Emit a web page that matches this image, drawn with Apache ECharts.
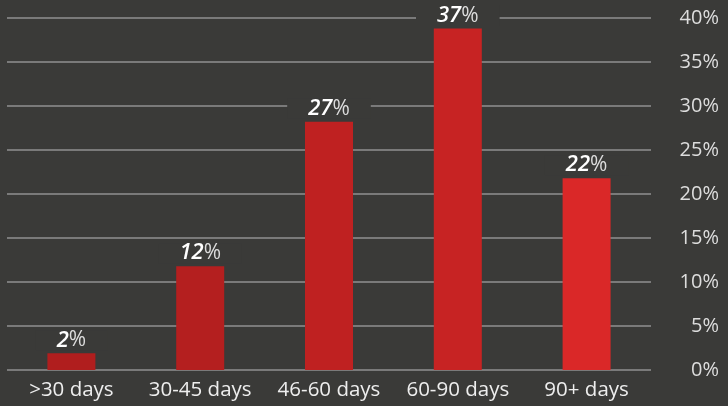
<!DOCTYPE html>
<html>
<head>
<meta charset="utf-8">
<script src="https://cdn.jsdelivr.net/npm/echarts@6/dist/echarts.min.js"></script>
<style>
html, body { margin: 0; padding: 0; background: #3a3a38; }
#chart { width: 728px; height: 406px; }
</style>
</head>
<body>
<div id="chart"></div>
<script>
var categories = ['>30 days', '30-45 days', '46-60 days', '60-90 days', '90+ days'];
var values = [1.9, 11.8, 28.2, 38.8, 21.8];      // bar heights
var labelValues = [2, 12, 27, 37, 22];            // printed labels
var barColors = ['#b01e1e', '#b41f1f', '#bf2121', '#c72323', '#da2828'];
var bg = '#3a3a38';

var chart = echarts.init(document.getElementById('chart'));

var data = [];
for (var i = 0; i < values.length; i++) {
	data.push({
		value: values[i],
		itemStyle: { color: barColors[i] }
	});
}

chart.setOption({
	backgroundColor: bg,
	textStyle: { fontFamily: 'Open Sans' },
	grid: { left: 7, right: 77, top: 18, bottom: 36 },
	xAxis: {
		type: 'category',
		data: categories,
		axisLine: { show: false },
		axisTick: { show: false },
		axisLabel: { color: '#eeeeee', fontSize: 20.5, margin: 10, interval: 0 }
	},
	yAxis: {
		type: 'value',
		position: 'right',
		min: 0,
		max: 40,
		interval: 5,
		axisLine: { show: false },
		axisTick: { show: false },
		splitLine: { lineStyle: { color: '#7a7a7a', width: 2 } },
		axisLabel: {
			color: '#dddddd',
			fontSize: 20,
			align: 'right',
			margin: 68,
			formatter: '{value}%'
		}
	},
	series: [{
		type: 'bar',
		barWidth: 48,
		data: data,
		label: {
			show: true,
			position: 'top',
			distance: 3,
			backgroundColor: bg,
			padding: [0, 21],
			formatter: function (p) {
				return '{n|' + labelValues[p.dataIndex] + '}{p|%}';
			},
			rich: {
				n: { color: '#ffffff', fontSize: 22, fontWeight: 600, fontStyle: 'italic', lineHeight: 20 },
				p: { color: '#dcdcdc', fontSize: 21, lineHeight: 20 }
			}
		}
	}]
});
</script>
</body>
</html>
